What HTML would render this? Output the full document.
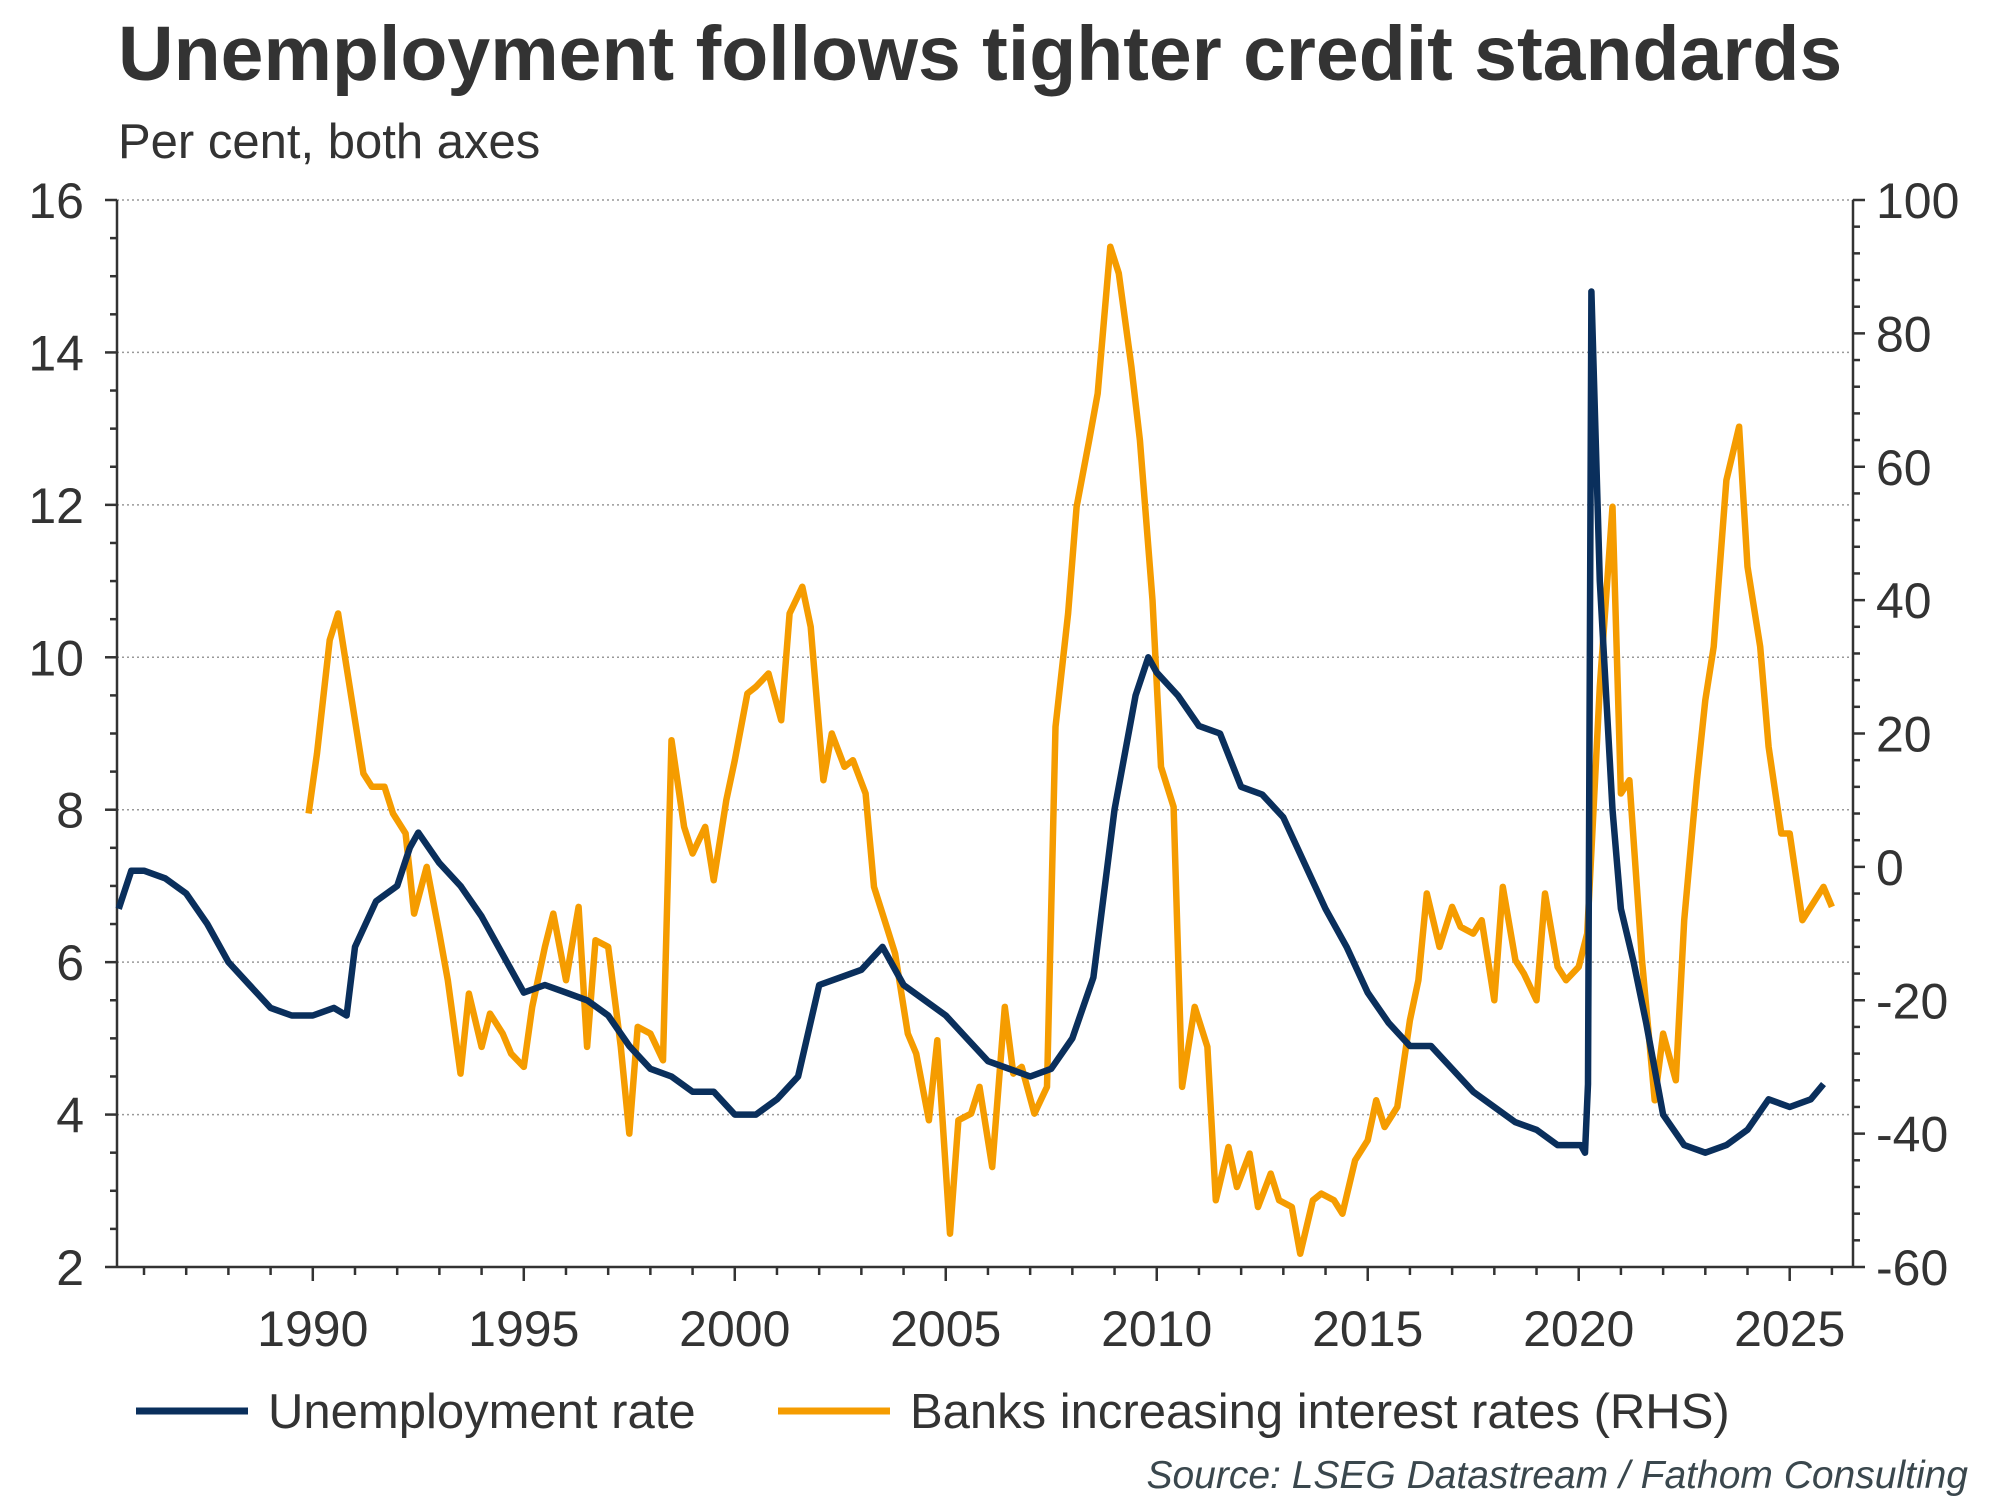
<!DOCTYPE html>
<html><head><meta charset="utf-8"><style>
body{margin:0;background:#fff}
svg{display:block;font-family:"Liberation Sans",Arial,sans-serif}
</style></head><body>
<svg id="chart" width="2000" height="1500" viewBox="0 0 2000 1500">
<text x="118" y="80" font-size="77" font-weight="bold" fill="#333">Unemployment follows tighter credit standards</text>
<text x="118" y="158" font-size="49" fill="#333">Per cent, both axes</text>
<g id="grid"></g>
<g id="axes"></g>
<g id="series"></g>
<g>
<line x1="136" y1="1411" x2="248" y2="1411" stroke="#0a2f5c" stroke-width="7"/>
<text x="268" y="1428" font-size="49" fill="#333">Unemployment rate</text>
<line x1="778" y1="1411" x2="890" y2="1411" stroke="#f59c00" stroke-width="7"/>
<text x="910" y="1428" font-size="49" fill="#333">Banks increasing interest rates (RHS)</text>
</g>
<text x="1968" y="1488" font-size="39" font-style="italic" fill="#3a474d" text-anchor="end">Source: LSEG Datastream / Fathom Consulting</text>
</svg>
<script>
const unempYears=[1985.4,1985.7,1986,1986.5,1987,1987.5,1988,1988.5,1989,1989.5,1990,1990.5,1990.8,1991,1991.5,1992,1992.3,1992.5,1993,1993.5,1994,1994.5,1995,1995.5,1996,1996.5,1997,1997.5,1998,1998.5,1999,1999.5,2000,2000.5,2001,2001.5,2002,2002.5,2003,2003.5,2004,2004.5,2005,2005.5,2006,2006.5,2007,2007.5,2008,2008.5,2009,2009.5,2009.8,2010,2010.5,2011,2011.5,2012,2012.5,2013,2013.5,2014,2014.5,2015,2015.5,2016,2016.5,2017,2017.5,2018,2018.5,2019,2019.5,2020.05,2020.15,2020.22,2020.3,2020.5,2020.8,2021,2021.3,2021.6,2022,2022.5,2023,2023.5,2024,2024.5,2025,2025.5,2025.8];
const unempValues=[6.7,7.2,7.2,7.1,6.9,6.5,6.0,5.7,5.4,5.3,5.3,5.4,5.3,6.2,6.8,7.0,7.5,7.7,7.3,7.0,6.6,6.1,5.6,5.7,5.6,5.5,5.3,4.9,4.6,4.5,4.3,4.3,4.0,4.0,4.2,4.5,5.7,5.8,5.9,6.2,5.7,5.5,5.3,5.0,4.7,4.6,4.5,4.6,5.0,5.8,8.0,9.5,10.0,9.8,9.5,9.1,9.0,8.3,8.2,7.9,7.3,6.7,6.2,5.6,5.2,4.9,4.9,4.6,4.3,4.1,3.9,3.8,3.6,3.6,3.5,4.4,14.8,11.0,8.0,6.7,6.0,5.2,4.0,3.6,3.5,3.6,3.8,4.2,4.1,4.2,4.4];
const bankYears=[1989.9,1990.1,1990.4,1990.6,1991.2,1991.4,1991.7,1991.9,1992.2,1992.4,1992.7,1993.0,1993.2,1993.5,1993.7,1994.0,1994.2,1994.5,1994.7,1995.0,1995.2,1995.5,1995.7,1996.0,1996.3,1996.5,1996.7,1997.0,1997.3,1997.5,1997.7,1998.0,1998.3,1998.5,1998.8,1999.0,1999.3,1999.5,1999.8,2000.0,2000.3,2000.5,2000.8,2001.1,2001.3,2001.6,2001.8,2002.1,2002.3,2002.6,2002.8,2003.1,2003.3,2003.6,2003.8,2004.1,2004.3,2004.6,2004.8,2005.1,2005.3,2005.6,2005.8,2006.1,2006.4,2006.6,2006.8,2007.1,2007.4,2007.6,2007.9,2008.1,2008.4,2008.6,2008.9,2009.1,2009.4,2009.6,2009.9,2010.1,2010.4,2010.6,2010.9,2011.2,2011.4,2011.7,2011.9,2012.2,2012.4,2012.7,2012.9,2013.2,2013.4,2013.7,2013.9,2014.2,2014.4,2014.7,2015.0,2015.2,2015.4,2015.7,2016.0,2016.2,2016.4,2016.7,2017.0,2017.2,2017.5,2017.7,2018.0,2018.2,2018.5,2018.7,2019.0,2019.2,2019.5,2019.7,2020.0,2020.2,2020.5,2020.8,2021.0,2021.2,2021.5,2021.8,2022.0,2022.3,2022.5,2022.8,2023.0,2023.2,2023.5,2023.8,2024.0,2024.3,2024.5,2024.8,2025.0,2025.3,2025.5,2025.8,2026.0];
const bankValues=[8,17,34,38,14,12,12,8,5,-7,0,-10,-17,-31,-19,-27,-22,-25,-28,-30,-21,-12,-7,-17,-6,-27,-11,-12,-27,-40,-24,-25,-29,19,6,2,6,-2,10,16,26,27,29,22,38,42,36,13,20,15,16,11,-3,-9,-13,-25,-28,-38,-26,-55,-38,-37,-33,-45,-21,-31,-30,-37,-33,21,38,54,64,71,93,89,75,64,40,15,9,-33,-21,-27,-50,-42,-48,-43,-51,-46,-50,-51,-58,-50,-49,-50,-52,-44,-41,-35,-39,-36,-23,-17,-4,-12,-6,-9,-10,-8,-20,-3,-14,-16,-20,-4,-15,-17,-15,-10,27,54,11,13,-14,-35,-25,-32,-8,13,25,33,58,66,45,33,18,5,5,-8,-6,-3,-6];
const leftTicks=[2,4,6,8,10,12,14,16];
const rightTicks=[-60,-40,-20,0,20,40,60,80,100];
const xTickYears=[1990,1995,2000,2005,2010,2015,2020,2025];

const L=117,R=1853,T=200,B=1267;
const X0=1985.36,X1=2026.5;
const x=v=>L+(v-X0)/(X1-X0)*(R-L);
const yL=v=>B-(v-2)/14*(B-T);
const yR=v=>B-(v+60)/160*(B-T);
const NS='http://www.w3.org/2000/svg';
function mk(tag,attrs,parent,text){const e=document.createElementNS(NS,tag);for(const k in attrs)e.setAttribute(k,attrs[k]);if(text!==undefined)e.textContent=text;parent.appendChild(e);return e;}
const grid=document.getElementById('grid'),axes=document.getElementById('axes'),series=document.getElementById('series');
leftTicks.forEach(t=>{
 if(t>2){const g=mk('line',{x1:L,x2:R,y1:yL(t),y2:yL(t),stroke:'#999','stroke-width':1.5,'stroke-dasharray':'2 3'},grid);
 
 }
 const lb=mk('text',{x:84,y:yL(t)+18,'font-size':50,fill:'#333','text-anchor':'end'},axes,String(t));
 
 
});
for(let v=2;v<=16.001;v+=0.5){mk('line',{x1:L-(v%2===0?12:7),x2:L,y1:yL(v),y2:yL(v),stroke:'#333','stroke-width':2.5},axes);}
rightTicks.forEach(t=>{
 const lb=mk('text',{x:1876,y:yR(t)+18,'font-size':50,fill:'#333'},axes,String(t));
 
 
});
for(let v=-60;v<=100;v+=4){mk('line',{x1:R,x2:R+(v%20===0?12:7),y1:yR(v),y2:yR(v),stroke:'#333','stroke-width':2.5},axes);}
for(let yr=1986;yr<=2026;yr++){mk('line',{x1:x(yr),x2:x(yr),y1:B,y2:B+(yr%5===0?14:8),stroke:'#333','stroke-width':2.5},axes);}
xTickYears.forEach(yr=>{
 const lb=mk('text',{x:x(yr),y:1346,'font-size':50,fill:'#333','text-anchor':'middle'},axes,String(yr));
 
 
});
const la=mk('line',{x1:L,x2:L,y1:T,y2:B,stroke:'#333','stroke-width':2.5},axes);


const ra=mk('line',{x1:R,x2:R,y1:T,y2:B,stroke:'#333','stroke-width':2.5},axes);


const ba=mk('line',{x1:L,x2:R,y1:B,y2:B,stroke:'#333','stroke-width':2.5},axes);


const pb=mk('polyline',{points:bankYears.map((yr,i)=>x(yr).toFixed(1)+','+yR(bankValues[i]).toFixed(1)).join(' '),fill:'none',stroke:'#f59c00','stroke-width':6.5,'stroke-linejoin':'round'},series);


const pu=mk('polyline',{points:unempYears.map((yr,i)=>x(yr).toFixed(1)+','+yL(unempValues[i]).toFixed(1)).join(' '),fill:'none',stroke:'#0a2f5c','stroke-width':6.5,'stroke-linejoin':'round'},series);


</script>
</body></html>
